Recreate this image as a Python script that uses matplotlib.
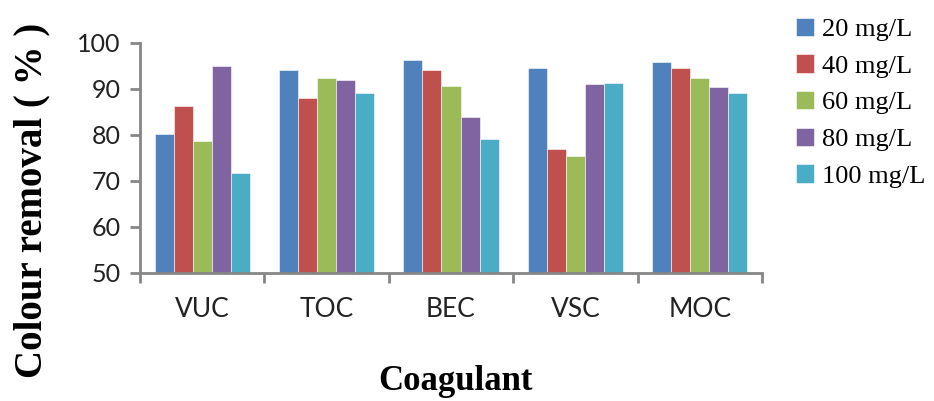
import numpy as np
import matplotlib.pyplot as plt

coagulants = ["VUC", "TOC", "BEC", "VSC", "MOC"]
doses = ["20 mg/L", "40 mg/L", "60 mg/L", "80 mg/L", "100 mg/L"]

removal_20 = [80.2, 94.2, 96.2, 94.6, 95.9]
removal_40 = [86.2, 88.1, 94.2, 77.0, 94.6]
removal_60 = [78.6, 92.3, 90.7, 75.4, 92.3]
removal_80 = [94.9, 92.0, 84.0, 91.1, 90.4]
removal_100 = [71.8, 89.2, 79.2, 91.4, 89.2]

colours = ["#4F81BD", "#C0504D", "#9BBB59", "#8064A2", "#4BACC6"]

series = [removal_20, removal_40, removal_60, removal_80, removal_100]

fig = plt.figure(figsize=(9.34, 4.01), dpi=100)
ax = fig.add_axes([140 / 934, 1 - 273 / 401, 622 / 934, 230 / 401])

x = np.arange(len(coagulants))
w = 0.153
for i, (vals, c, lab) in enumerate(zip(series, colours, doses)):
    ax.bar(x + (i - 2) * w, np.array(vals) - 50, bottom=50, width=w,
           color=c, edgecolor="white", linewidth=0.4, label=lab)

ax.set_ylim(50, 100)
ax.set_xlim(-0.5, len(coagulants) - 0.5)
ax.set_yticks(range(50, 101, 10))

grey = "#868686"
for s in ["top", "right"]:
    ax.spines[s].set_visible(False)
for s in ["left", "bottom"]:
    ax.spines[s].set_color(grey)
    ax.spines[s].set_linewidth(2)

# category labels centred, ticks at group boundaries
ax.set_xticks(np.arange(len(coagulants) + 1) - 0.5)
ax.set_xticklabels([])
ax.set_xticks(x, minor=True)
ax.set_xticklabels(coagulants, minor=True, fontfamily="Lato", fontsize=19,
                   color="#222222")
ax.tick_params(axis="x", which="major", direction="out", length=7,
               width=2, color=grey)
ax.tick_params(axis="x", which="minor", length=0, pad=17)
ax.tick_params(axis="y", direction="out", length=7, width=2, color=grey,
               labelsize=18, pad=7, labelcolor="#222222")
for t in ax.get_yticklabels():
    t.set_fontfamily("Lato")

fig.text(0.034, 0.5, "Colour removal ( % )", rotation=90, ha="center",
         va="center", fontfamily="Liberation Serif", fontweight="bold",
         fontsize=28)
fig.text(455 / 934, 1 - 382 / 401, "Coagulant", ha="center", va="center",
         fontfamily="Liberation Serif", fontweight="bold", fontsize=25)

leg = fig.legend(loc="upper left", bbox_to_anchor=(785 / 934, 1 - 7 / 401),
                 frameon=False, prop={"family": "Liberation Serif", "size": 19},
                 handlelength=0.7, handleheight=0.7, handletextpad=0.3,
                 labelspacing=0.5, borderaxespad=0)

fig.savefig("out.png", dpi=100)
